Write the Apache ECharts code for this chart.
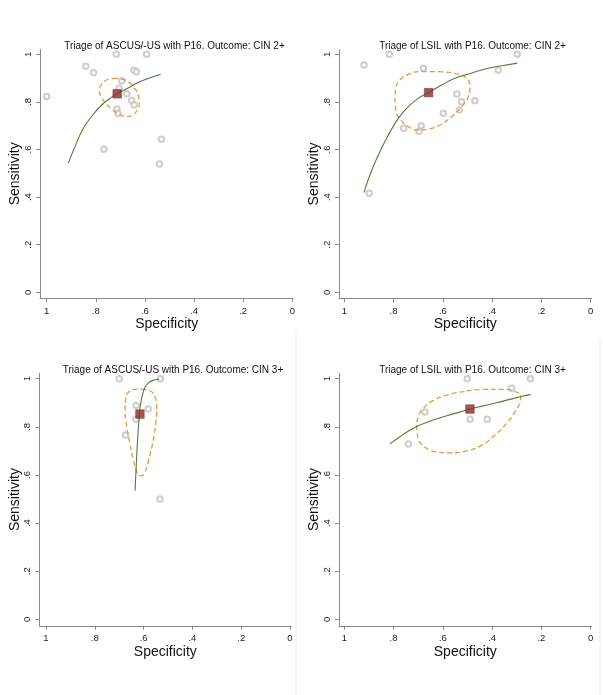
<!DOCTYPE html>
<html>
<head>
<meta charset="utf-8">
<script src="https://cdn.jsdelivr.net/npm/echarts@6/dist/echarts.min.js"></script>
<style>
html,body{margin:0;padding:0;background:#fff;}
#chart{width:603px;height:695px;}
</style>
</head>
<body>
<div id="chart"></div>
<script>
// ---------- data: [specificity, sensitivity] ----------
const panelTitles = [
  'Triage of ASCUS/-US with P16. Outcome: CIN 2+',
  'Triage of LSIL with P16. Outcome: CIN 2+',
  'Triage of ASCUS/-US with P16. Outcome: CIN 3+',
  'Triage of LSIL with P16. Outcome: CIN 3+'
];
const tickValues = [0, 0.2, 0.4, 0.6, 0.8, 1];
const tickLabels = ['0', '.2', '.4', '.6', '.8', '1'];

// Panel 1: ASCUS/-US, CIN 2+
const asc2Studies = [[0.717,1.0],[0.593,1.0],[0.841,0.950],[0.809,0.923],[0.645,0.933],[0.635,0.927],
  [1.0,0.823],[0.694,0.889],[0.705,0.857],[0.674,0.834],[0.654,0.807],[0.644,0.787],[0.714,0.770],
  [0.710,0.751],[0.533,0.643],[0.767,0.601],[0.541,0.539]];
const asc2Summary = [[0.713,0.834]];
const asc2Curve = [[0.912,0.542],[0.885,0.612],[0.851,0.689],[0.810,0.748],[0.776,0.787],[0.742,0.815],
  [0.713,0.834],[0.674,0.855],[0.634,0.878],[0.593,0.896],[0.536,0.916]];
const asc2Region = [[0.729,0.899],[0.695,0.896],[0.668,0.884],[0.645,0.861],[0.627,0.829],[0.623,0.794],
  [0.631,0.766],[0.650,0.745],[0.674,0.738],[0.704,0.748],[0.735,0.769],[0.763,0.797],[0.780,0.825],
  [0.786,0.850],[0.776,0.875],[0.756,0.892],[0.729,0.899]];

// Panel 2: LSIL, CIN 2+
const lsil2Studies = [[0.817,1.0],[0.298,1.0],[0.920,0.955],[0.679,0.941],[0.375,0.934],[0.543,0.833],
  [0.524,0.801],[0.470,0.805],[0.533,0.766],[0.598,0.752],[0.688,0.700],[0.759,0.689],[0.697,0.676],
  [0.899,0.416]];
const lsil2Summary = [[0.658,0.839]];
const lsil2Curve = [[0.920,0.420],[0.896,0.493],[0.862,0.577],[0.821,0.661],[0.781,0.731],[0.740,0.780],
  [0.700,0.815],[0.658,0.839],[0.605,0.871],[0.551,0.899],[0.497,0.917],[0.429,0.938],[0.361,0.952],
  [0.298,0.963]];
const lsil2Region = [[0.618,0.927],[0.551,0.920],[0.503,0.899],[0.490,0.864],[0.497,0.822],[0.524,0.780],
  [0.564,0.738],[0.612,0.703],[0.659,0.686],[0.700,0.682],[0.740,0.696],[0.774,0.728],[0.791,0.766],
  [0.794,0.815],[0.791,0.857],[0.774,0.892],[0.740,0.916],[0.686,0.927],[0.618,0.927]];

// Panel 3: ASCUS/-US, CIN 3+
const asc3Studies = [[0.700,1.0],[0.531,1.0],[0.631,0.889],[0.581,0.874],[0.631,0.831],[0.674,0.766],
  [0.533,0.500]];
const asc3Summary = [[0.615,0.853]];
const asc3Curve = [[0.635,0.535],[0.631,0.621],[0.627,0.704],[0.622,0.787],[0.618,0.842],[0.614,0.884],
  [0.605,0.932],[0.594,0.964],[0.578,0.985],[0.556,0.995],[0.536,0.998]];
const asc3Region = [[0.608,0.957],[0.574,0.950],[0.553,0.925],[0.546,0.884],[0.550,0.815],[0.563,0.731],
  [0.581,0.655],[0.597,0.607],[0.611,0.596],[0.628,0.614],[0.642,0.662],[0.656,0.731],[0.669,0.801],
  [0.676,0.870],[0.673,0.918],[0.660,0.946],[0.635,0.956],[0.608,0.957]];

// Panel 4: LSIL, CIN 3+
const lsil3Studies = [[0.501,1.0],[0.245,1.0],[0.321,0.960],[0.673,0.862],[0.489,0.831],[0.420,0.831],
  [0.740,0.729]];
const lsil3Summary = [[0.490,0.874]];
const lsil3Curve = [[0.815,0.729],[0.774,0.759],[0.733,0.787],[0.693,0.808],[0.639,0.828],[0.584,0.846],
  [0.530,0.862],[0.490,0.874],[0.436,0.887],[0.382,0.900],[0.328,0.914],[0.274,0.928],[0.244,0.935]];
const lsil3Region = [[0.503,0.949],[0.422,0.956],[0.355,0.956],[0.307,0.946],[0.284,0.928],[0.287,0.904],
  [0.307,0.863],[0.341,0.815],[0.388,0.766],[0.442,0.724],[0.503,0.700],[0.571,0.692],[0.632,0.697],
  [0.672,0.715],[0.700,0.752],[0.706,0.801],[0.700,0.842],[0.679,0.877],[0.639,0.909],[0.584,0.932],
  [0.503,0.949]];

const panelData = [
  {studies: asc2Studies, summary: asc2Summary, curve: asc2Curve, region: asc2Region},
  {studies: lsil2Studies, summary: lsil2Summary, curve: lsil2Curve, region: lsil2Region},
  {studies: asc3Studies, summary: asc3Summary, curve: asc3Curve, region: asc3Region},
  {studies: lsil3Studies, summary: lsil3Summary, curve: lsil3Curve, region: lsil3Region}
];

// ---------- layout (pixel positions of value 1 and 0 on each axis) ----------
const layout = [
  {x1: 46.7, x0: 292.3, y1: 54.3, y0: 292.3, xmax: 1.027, xmin: -0.004, ymin: -0.024, ymax: 1.02},
  {x1: 344.3, x0: 590.7, y1: 54.3, y0: 292.3, xmax: 1.022, xmin: -0.004, ymin: -0.025, ymax: 1.02},
  {x1: 46.0, x0: 290.0, y1: 378.7, y0: 619.3, xmax: 1.026, xmin: -0.004, ymin: -0.027, ymax: 1.022},
  {x1: 344.3, x0: 590.7, y1: 378.7, y0: 619.3, xmax: 1.022, xmin: -0.004, ymin: -0.027, ymax: 1.022}
];

const FONT = '"Liberation Sans", Arial, sans-serif';
const AXIS_COLOR = '#8a8a8a';
const fmt = v => {
  const i = tickValues.findIndex(t => Math.abs(t - v) < 1e-9);
  return i >= 0 ? tickLabels[i] : '';
};

const grids = [], xAxes = [], yAxes = [], titles = [], series = [];
layout.forEach((L, i) => {
  const ux = L.x0 - L.x1, uy = L.y0 - L.y1;
  grids.push({
    left: L.x1 - (L.xmax - 1) * ux,
    width: (L.xmax - L.xmin) * ux,
    top: L.y1 - (L.ymax - 1) * uy,
    height: (L.ymax - L.ymin) * uy,
    containLabel: false
  });
  const common = {
    type: 'value', gridIndex: i, nameLocation: 'middle',
    nameTextStyle: {fontFamily: FONT, fontSize: 14, color: '#111'},
    axisLine: {show: true, onZero: false, lineStyle: {color: AXIS_COLOR, width: 1}},
    axisTick: {show: true, length: 4, lineStyle: {color: AXIS_COLOR}, customValues: tickValues},
    axisLabel: {fontFamily: FONT, fontSize: 9.5, color: '#222', customValues: tickValues, formatter: fmt},
    splitLine: {show: false}
  };
  xAxes.push(Object.assign({}, common, {
    min: L.xmin, max: L.xmax, inverse: true, name: 'Specificity', nameGap: 16,
    axisLabel: Object.assign({}, common.axisLabel, {margin: 8})
  }));
  yAxes.push(Object.assign({}, common, {
    min: L.ymin, max: L.ymax, name: 'Sensitivity', nameGap: 18,
    axisLabel: Object.assign({}, common.axisLabel, {rotate: 90, margin: 7})
  }));
  titles.push({
    text: panelTitles[i],
    left: (L.x1 + L.x0) / 2, textAlign: 'center',
    top: L.y1 - 18,
    textStyle: {fontFamily: FONT, fontSize: 10, fontWeight: 'normal', color: '#111'}
  });
  const D = panelData[i];
  series.push({
    type: 'scatter', xAxisIndex: i, yAxisIndex: i, data: D.studies,
    symbol: 'emptyCircle', symbolSize: 5.5,
    itemStyle: {color: '#c2c2c2', borderColor: '#c2c2c2', borderWidth: 0.8},
    silent: true, z: 2
  });
  series.push({
    type: 'line', xAxisIndex: i, yAxisIndex: i, data: D.region,
    smooth: 0.5, showSymbol: false, symbol: 'none',
    lineStyle: {color: '#e69a3a', width: 1.3, type: [5, 3]},
    silent: true, z: 3
  });
  series.push({
    type: 'line', xAxisIndex: i, yAxisIndex: i, data: D.curve,
    smooth: 0.4, showSymbol: false, symbol: 'none',
    lineStyle: {color: '#557a3a', width: 1.1},
    silent: true, z: 4
  });
  series.push({
    type: 'scatter', xAxisIndex: i, yAxisIndex: i, data: D.summary,
    symbol: 'rect', symbolSize: 8.5,
    itemStyle: {color: '#8c2d2d', borderColor: '#6e1f1f', borderWidth: 0.6},
    silent: true, z: 5
  });
});

const chart = echarts.init(document.getElementById('chart'), null, {renderer: 'canvas'});
chart.setOption({
  backgroundColor: '#fff',
  animation: false,
  title: titles,
  grid: grids,
  xAxis: xAxes,
  yAxis: yAxes,
  series: series,
  graphic: [
    {type: 'line', shape: {x1: 296, y1: 330, x2: 296, y2: 695}, style: {stroke: '#ececec', lineWidth: 1}, silent: true},
    {type: 'line', shape: {x1: 600, y1: 340, x2: 600, y2: 695}, style: {stroke: '#ececec', lineWidth: 1}, silent: true}
  ]
});
</script>
</body>
</html>
